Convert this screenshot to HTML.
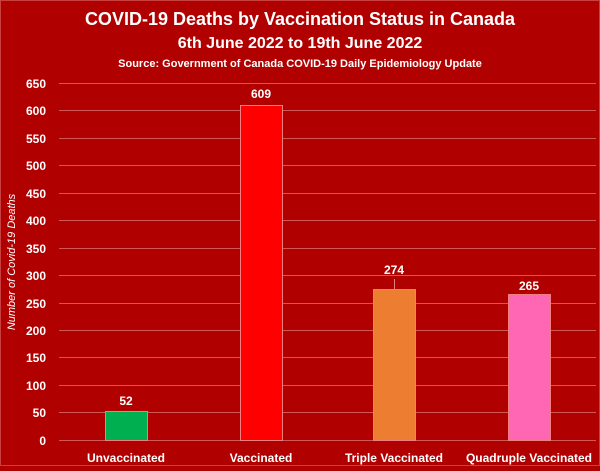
<!DOCTYPE html>
<html><head><style>html,body{margin:0;padding:0;background:#b00000}</style></head>
<body>
<svg width="600" height="466" xmlns="http://www.w3.org/2000/svg" font-family="Liberation Sans, sans-serif" font-weight="bold">
<rect x="0" y="0" width="600" height="466" fill="#b00000"/>
<rect x="0.5" y="0.5" width="599" height="465" fill="none" stroke="#c84040" stroke-width="1"/>
<text x="300" y="25" text-anchor="middle" fill="#fff" font-size="18">COVID-19 Deaths by Vaccination Status in Canada</text>
<text x="300" y="48" text-anchor="middle" fill="#fff" font-size="16">6th June 2022 to 19th June 2022</text>
<text x="300" y="67" text-anchor="middle" fill="#fff" font-size="11">Source: Government of Canada COVID-19 Daily Epidemiology Update</text>
<g stroke="#d05858" stroke-width="1">
<line x1="59" x2="596" y1="83.5" y2="83.5"/><line x1="59" x2="596" y1="110.5" y2="110.5"/>
<line x1="59" x2="596" y1="138.5" y2="138.5"/><line x1="59" x2="596" y1="165.5" y2="165.5"/>
<line x1="59" x2="596" y1="193.5" y2="193.5"/><line x1="59" x2="596" y1="220.5" y2="220.5"/>
<line x1="59" x2="596" y1="248.5" y2="248.5"/><line x1="59" x2="596" y1="275.5" y2="275.5"/>
<line x1="59" x2="596" y1="303.5" y2="303.5"/><line x1="59" x2="596" y1="330.5" y2="330.5"/>
<line x1="59" x2="596" y1="357.5" y2="357.5"/><line x1="59" x2="596" y1="385.5" y2="385.5"/>
<line x1="59" x2="596" y1="412.5" y2="412.5"/><line x1="59" x2="596" y1="440.5" y2="440.5"/>
</g>
<g fill="#fff" font-size="12" text-anchor="end">
<text x="46" y="88">650</text><text x="46" y="115">600</text><text x="46" y="143">550</text>
<text x="46" y="170">500</text><text x="46" y="198">450</text><text x="46" y="225">400</text>
<text x="46" y="253">350</text><text x="46" y="280">300</text><text x="46" y="308">250</text>
<text x="46" y="335">200</text><text x="46" y="362">150</text><text x="46" y="390">100</text>
<text x="46" y="417">50</text><text x="46" y="445">0</text>
</g>
<text transform="translate(15,262) rotate(-90)" text-anchor="middle" fill="#fff" font-size="11" font-weight="normal" font-style="italic">Number of Covid-19 Deaths</text>
<rect x="105.5" y="411.5" width="42" height="29" fill="#00b050" stroke="#f08080"/>
<rect x="240.5" y="105.5" width="42" height="335" fill="#ff0000" stroke="#f08080"/>
<rect x="373.5" y="289.5" width="42" height="151" fill="#ed7d31" stroke="#f08080"/>
<rect x="508.5" y="294.5" width="42" height="146" fill="#ff66b3" stroke="#f08080"/>
<line x1="394.5" y1="279" x2="394.5" y2="289" stroke="#e08080"/>
<g fill="#fff" font-size="12" text-anchor="middle">
<text x="126" y="405">52</text><text x="261" y="98">609</text>
<text x="394" y="274">274</text><text x="529" y="290">265</text>
<text x="126" y="462">Unvaccinated</text><text x="261" y="462">Vaccinated</text>
<text x="394" y="462">Triple Vaccinated</text><text x="529" y="462">Quadruple Vaccinated</text>
</g>
</svg>
</body></html>
